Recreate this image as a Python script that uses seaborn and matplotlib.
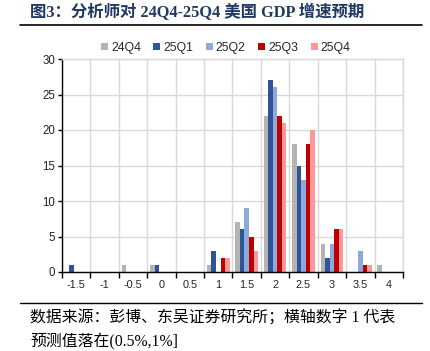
import numpy as np
import pandas as pd
import matplotlib
matplotlib.use("Agg")
import matplotlib.pyplot as plt
from matplotlib.lines import Line2D
import seaborn as sns

# 横轴区间（1 代表预测值落在 (0.5%, 1%]）
bins = ["-1.5", "-1", "-0.5", "0", "0.5", "1", "1.5", "2", "2.5", "3", "3.5", "4"]
quarters = ["24Q4", "25Q1", "25Q2", "25Q3", "25Q4"]

q24q4 = [0, 0, 1, 1, 0, 1, 7, 22, 18, 4, 0, 1]
q25q1 = [1, 0, 0, 1, 0, 3, 6, 27, 15, 2, 0, 0]
q25q2 = [0, 0, 0, 0, 0, 0, 9, 26, 13, 4, 3, 0]
q25q3 = [0, 0, 0, 0, 0, 2, 5, 22, 18, 6, 1, 0]
q25q4 = [0, 0, 0, 0, 0, 2, 3, 21, 20, 6, 1, 0]

colors = ["#B4B4B4", "#2F5597", "#8EA9DB", "#C00000", "#FF9999"]

rows = []
for q, vals in zip(quarters, [q24q4, q25q1, q25q2, q25q3, q25q4]):
    for b, v in zip(bins, vals):
        rows.append({"bin": b, "count": v, "quarter": q})
df = pd.DataFrame(rows)

sns.set_style("white")
plt.rcParams["font.family"] = ["Liberation Sans", "Noto Sans CJK SC"]

W, H = 431, 351
fig = plt.figure(figsize=(W / 100, H / 100), dpi=100)
ax = fig.add_axes([62 / W, 1 - 272 / H, (403 - 62) / W, (272 - 59) / H])

sns.barplot(data=df, x="bin", y="count", hue="quarter", order=bins,
            hue_order=quarters, palette=colors, width=0.8, saturation=1,
            errorbar=None, ax=ax, linewidth=0)

grid_c = "#D9D9D9"
ax.set_axisbelow(True)
ax.set_xlim(-0.5, len(bins) - 0.5)
ax.set_ylim(0, 30)
ax.set_yticks(range(0, 31, 5))
ax.set_xticks(np.arange(-0.5, len(bins), 1), minor=True)
ax.yaxis.grid(True, color=grid_c, lw=1)
ax.xaxis.grid(True, which="minor", color=grid_c, lw=1)
ax.xaxis.grid(False, which="major")
ax.tick_params(axis="x", which="major", length=0, labelsize=7.8, pad=6, colors="#222222")
ax.tick_params(axis="x", which="minor", length=4, width=1, direction="out", color="black", bottom=True)
ax.tick_params(axis="y", length=3, width=1, labelsize=8.3, pad=2, colors="#222222", left=True)
ax.tick_params(axis="y", color="black")
ax.set_xlabel("")
ax.set_ylabel("")
for s in ["left", "bottom"]:
    ax.spines[s].set_color("black")
    ax.spines[s].set_linewidth(1)
for s in ["top", "right"]:
    ax.spines[s].set_color(grid_c)
    ax.spines[s].set_linewidth(1)

handles, labels = ax.get_legend_handles_labels()
ax.legend(handles, labels, ncol=5, frameon=False, loc="lower center",
          bbox_to_anchor=(0.48, 0.99), fontsize=8.8, handlelength=0.6,
          handleheight=0.6, handletextpad=0.25, columnspacing=1.0,
          borderaxespad=0.2)

serif_cjk = ["Liberation Serif", "Noto Sans CJK SC"]
fig.text(30 / W, 1 - 13 / H, "图3：分析师对 24Q4-25Q4 美国 GDP 增速预期",
         family=serif_cjk, fontsize=11.8, fontweight="bold", color="#1F3864",
         va="center", ha="left")
fig.add_artist(Line2D([20 / W, 422 / W], [1 - 25 / H] * 2, color="black", lw=1.2))
fig.add_artist(Line2D([20 / W, 422 / W], [1 - 303 / H] * 2, color="black", lw=1.0))
fig.text(30 / W, 1 - 318 / H, "数据来源：彭博、东吴证券研究所；横轴数字 1 代表",
         family=serif_cjk, fontsize=11.4, color="black", va="center", ha="left")
fig.text(30 / W, 1 - 342 / H, "预测值落在(0.5%,1%]",
         family=serif_cjk, fontsize=11.4, color="black", va="center", ha="left")

fig.savefig("out.png", dpi=100)
